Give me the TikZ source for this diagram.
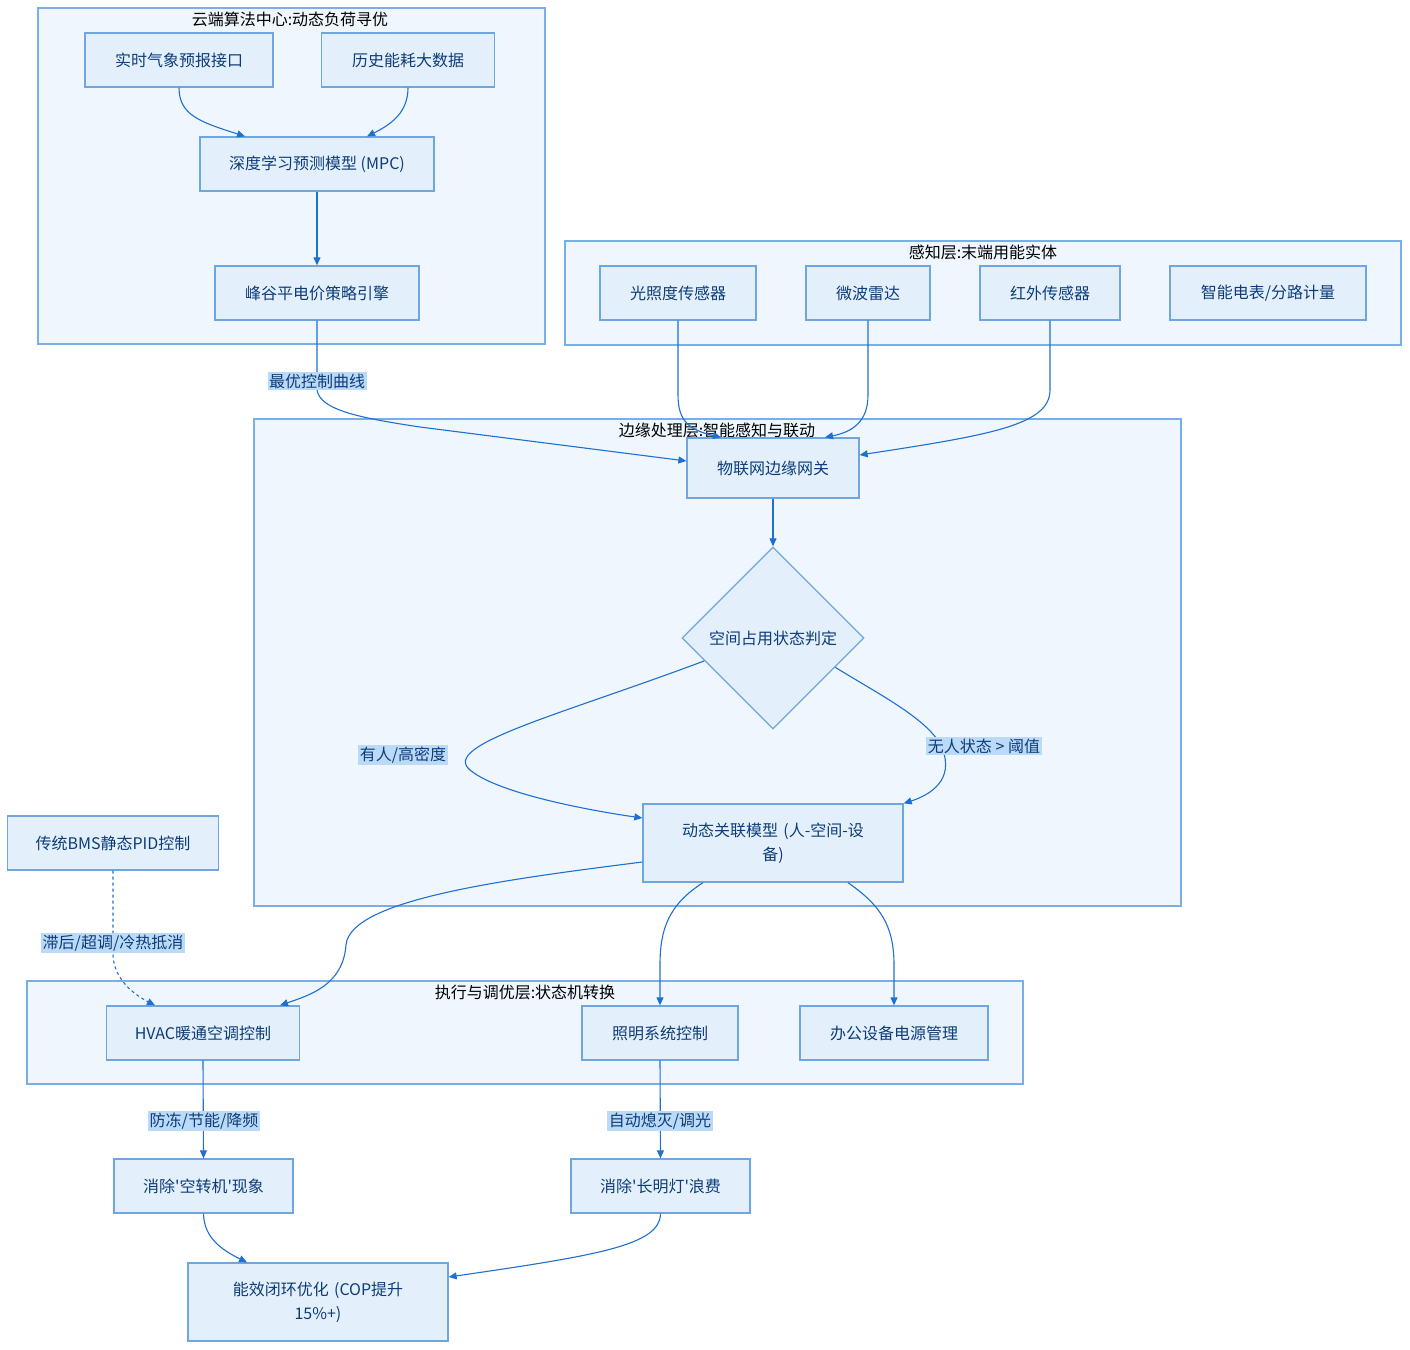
\documentclass[tikz,border=0pt]{standalone}
\usepackage{fontspec}
\setmainfont{Noto Sans CJK SC}[Ligatures=TeXOff]
\usetikzlibrary{arrows.meta,shapes.geometric,calc}
\definecolor{nodefill}{HTML}{E3F0FC}
\definecolor{nodeline}{HTML}{6FA6E0}
\definecolor{clfill}{HTML}{EFF6FE}
\definecolor{clline}{HTML}{7AAEE6}
\definecolor{txtblue}{HTML}{0D3C78}
\definecolor{edgeblue}{HTML}{1F70D0}
\definecolor{lblbg}{HTML}{BBDAF8}
\begin{document}
\begin{tikzpicture}[x=1pt,y=-1pt,
  every node/.style={font=\fontsize{16pt}{24pt}\selectfont},
  cluster/.style={draw=clline,fill=clfill,line width=1.3pt},
  cltitle/.style={text=black,inner sep=0pt},
  box/.style={draw=nodeline,fill=nodefill,line width=1.3pt,text=txtblue,align=center,inner sep=2pt},
  lbl/.style={fill=lblbg,text=txtblue,inner sep=1.5pt},
  edge/.style={draw=edgeblue,line width=1.1pt,-{Triangle[length=8pt,width=7pt]}},
  dashedge/.style={edge,dashed,dash pattern=on 3pt off 3pt}
]
\useasboundingbox (0,0) rectangle (1410,1349);
\fill[white] (0,0) rectangle (1410,1349);

% clusters
\draw[cluster] (38,8) rectangle (545,344);
\node[cltitle] (t1) at (290,19) {云端算法中心:动态负荷寻优};
\draw[cluster] (565,241) rectangle (1401,345);
\node[cltitle] (t2) at (983,252) {感知层:末端用能实体};
\draw[cluster] (254,419) rectangle (1181,906);
\node[cltitle] (t3) at (717,430) {边缘处理层:智能感知与联动};
\draw[cluster] (27,981) rectangle (1023,1084);
\node[cltitle] (t4) at (525,992) {执行与调优层:状态机转换};

% cloud nodes
\node[box,minimum width=188pt,minimum height=54pt] (wx) at (179,60) {实时气象预报接口};
\node[box,minimum width=173pt,minimum height=54pt] (hist) at (408,60) {历史能耗大数据};
\node[box,minimum width=234pt,minimum height=54pt] (mpc) at (317,164) {深度学习预测模型 (MPC)};
\node[box,minimum width=204pt,minimum height=54pt] (peak) at (317,293) {峰谷平电价策略引擎};

% perception nodes
\node[box,minimum width=156pt,minimum height=54pt] (light) at (678,293) {光照度传感器};
\node[box,minimum width=124pt,minimum height=54pt] (radar) at (868,293) {微波雷达};
\node[box,minimum width=140pt,minimum height=54pt] (ir) at (1050,293) {红外传感器};
\node[box,minimum width=196pt,minimum height=54pt] (meter) at (1268,293) {智能电表/分路计量};

% edge nodes
\node[box,minimum width=172pt,minimum height=60pt] (gw) at (773,468) {物联网边缘网关};
\node[box,diamond,aspect=1,minimum width=182pt,minimum height=182pt,inner sep=0pt] (dia) at (773,638) {空间占用状态判定};
\node[box,minimum width=260pt,minimum height=78pt,text width=200pt] (dyn) at (773,843) {动态关联模型 (人-空间-设\\备)};

% standalone
\node[box,minimum width=211pt,minimum height=54pt] (bms) at (113,843) {传统BMS静态PID控制};

% exec nodes
\node[box,minimum width=193pt,minimum height=54pt] (hvac) at (203,1033) {HVAC暖通空调控制};
\node[box,minimum width=156pt,minimum height=54pt] (lighting) at (660,1033) {照明系统控制};
\node[box,minimum width=188pt,minimum height=54pt] (office) at (894,1033) {办公设备电源管理};

% results
\node[box,minimum width=179pt,minimum height=54pt] (res1) at (203.5,1186) {消除'空转机'现象};
\node[box,minimum width=179pt,minimum height=54pt] (res2) at (660.5,1186) {消除'长明灯'浪费};
\node[box,minimum width=260pt,minimum height=78pt,text width=200pt] (eff) at (318,1302) {能效闭环优化 (COP提升\\15\%+)};

% edges
\draw[edge] (wx.south) .. controls (179,115) and (200,122) .. ([xshift=-72pt]mpc.north);
\draw[edge] (hist.south) .. controls (408,112) and (392,124) .. ([xshift=50pt]mpc.north);
\draw[edge] (mpc) -- (peak);
\draw[edge] (peak.south) -- (317,390) .. controls (320,410) and (360,418) .. (420,427) -- ([yshift=7pt]gw.west);
\draw[edge] (light.south) -- (678,395) .. controls (678,422) and (690,430) .. ([xshift=-52pt]gw.north);
\draw[edge] (radar.south) -- (868,395) .. controls (868,422) and (852,432) .. ([xshift=52pt]gw.north);
\draw[edge] (ir.south) -- (1050,390) .. controls (1050,425) and (990,435) .. ([yshift=13pt]gw.east);
\draw[edge] (gw) -- (dia);
\draw[edge] ($(dia.west)!0.25!(dia.south)$) .. controls (560,715) and (440,745) .. (470,770) .. controls (500,795) and (600,812) .. ([yshift=25pt]dyn.west);
\draw[edge] ($(dia.east)!0.32!(dia.south)$) .. controls (880,695) and (930,720) .. (942,748) .. controls (955,780) and (930,795) .. (dyn.north east);
\draw[edge] ([yshift=-19pt]dyn.west) .. controls (500,880) and (350,900) .. (346,945) .. controls (343,985) and (310,995) .. ([xshift=77pt]hvac.north);
\draw[edge] ([xshift=-70pt]dyn.south) .. controls (668,905) and (660,930) .. (660,965) -- (lighting.north);
\draw[edge] ([xshift=75pt]dyn.south) .. controls (880,905) and (894,925) .. (894,965) -- (office.north);
\draw[dashedge] (bms.south) -- (113,955) .. controls (114,980) and (135,995) .. ([xshift=-48pt]hvac.north);
\draw[edge] (hvac.south) -- (res1.north);
\draw[edge] (lighting.south) -- (res2.north);
\draw[edge] (res1.south) .. controls (204,1238) and (222,1250) .. ([xshift=-71pt]eff.north);
\draw[edge] (res2.south) .. controls (660,1245) and (600,1255) .. ([yshift=25pt]eff.east);

% edge labels
\node[lbl] (l1) at (317,381) {最优控制曲线};
\node[lbl] (l2) at (403,755) {有人/高密度};
\node[lbl] (l3) at (984,746) {无人状态 > 阈值};
\node[lbl] (l4) at (113,943) {滞后/超调/冷热抵消};
\node[lbl] (l5) at (204,1121) {防冻/节能/降频};
\node[lbl] (l6) at (660,1121) {自动熄灭/调光};
\end{tikzpicture}
\end{document}
